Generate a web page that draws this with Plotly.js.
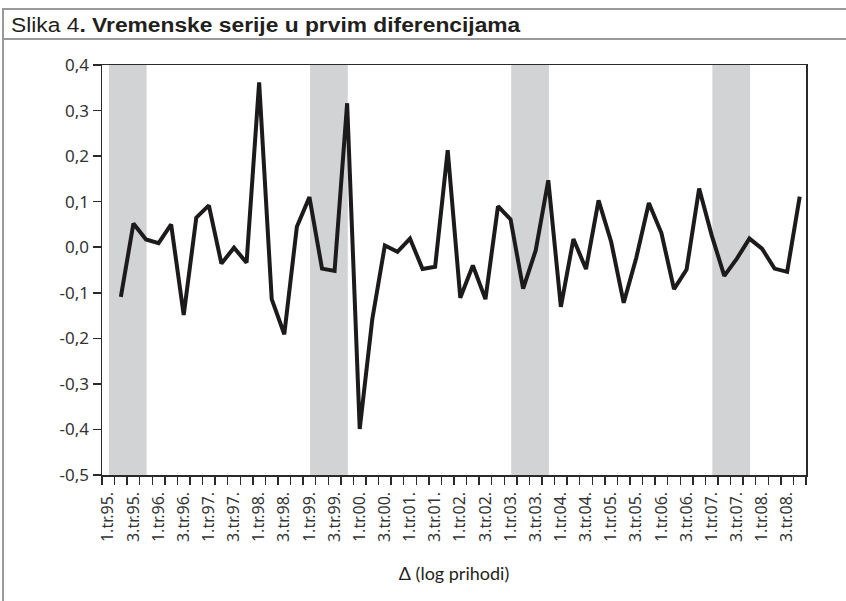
<!DOCTYPE html>
<html>
<head>
<meta charset="utf-8">
<script src="https://cdn.plot.ly/plotly-3.0.1.min.js"></script>
<style>
  html, body { margin: 0; padding: 0; background: #fff; }
  #wrap { position: relative; width: 846px; height: 601px; overflow: hidden; }
  #chart { position: absolute; left: 0; top: 0; width: 846px; height: 601px; }
  .frame { position: absolute; pointer-events: none; }
</style>
</head>
<body>
<div id="wrap">
  <div id="chart"></div>
  <div class="frame" style="left:2px; top:8px; width:844px; height:593px; border-left:2px solid #9a9a9a; border-top:2px solid #9a9a9a;"></div>
  <div class="frame" style="left:2px; top:38px; width:844px; height:0; border-top:2px solid #9a9a9a;"></div>
</div>
<script>
// Quarter labels (categories), 1995 Q1 .. 2008 Q4
const years = ['95','96','97','98','99','00','01','02','03','04','05','06','07','08'];
const quarters = [];
years.forEach(y => { for (let q = 1; q <= 4; q++) quarters.push(q + '.tr.' + y + '.'); });

// First differences of log revenues, starting at 2.tr.95.
const valueStart = '2.tr.95.';
const values = [
  -0.109, 0.052, 0.017, 0.009, 0.050, -0.149, 0.065, 0.092, -0.036, -0.001,
  -0.034, 0.362, -0.114, -0.191, 0.045, 0.110, -0.047, -0.052, 0.316, -0.399,
  -0.158, 0.004, -0.010, 0.019, -0.048, -0.043, 0.213, -0.111, -0.040, -0.114,
  0.090, 0.061, -0.091, -0.007, 0.147, -0.131, 0.018, -0.048, 0.103, 0.012,
  -0.122, -0.023, 0.097, 0.031, -0.092, -0.049, 0.129, 0.026, -0.063, -0.025,
  0.019, -0.003, -0.047, -0.054, 0.111
];

// Shaded periods
const shadeStarts = ['1.tr.95.', '1.tr.99.', '1.tr.03.', '1.tr.07.'];
const shadeEnds   = ['4.tr.95.', '4.tr.99.', '4.tr.03.', '4.tr.07.'];

// Tick labels shown (every second quarter)
const tickLabels = quarters.filter((q, i) => i % 2 === 0);

// Y-axis tick values and labels
const yTickVals = [-0.5, -0.4, -0.3, -0.2, -0.1, 0.0, 0.1, 0.2, 0.3, 0.4];
const yTickText = ['-0,5', '-0,4', '-0,3', '-0,2', '-0,1', '0,0', '0,1', '0,2', '0,3', '0,4'];

const startIdx = quarters.indexOf(valueStart);
const xs = values.map((v, i) => startIdx + i);
const tickPos = tickLabels.map(l => quarters.indexOf(l));

const FONT = '"Noto Sans", "Open Sans", Arial, sans-serif';

const shapes = shadeStarts.map((s, k) => ({
  type: 'rect', xref: 'x', yref: 'paper',
  x0: quarters.indexOf(s) + 0.05, x1: quarters.indexOf(shadeEnds[k]) + 0.05,
  y0: 0, y1: 1,
  fillcolor: '#d1d3d5', line: { width: 0 }, layer: 'below'
}));

const trace = {
  x: xs, y: values, type: 'scatter', mode: 'lines',
  line: { color: '#1c1a1a', width: 4, shape: 'linear' },
  hoverinfo: 'skip'
};

const layout = {
  width: 846, height: 601,
  margin: { l: 102, r: 40, t: 65, b: 126 },
  paper_bgcolor: 'rgba(0,0,0,0)',
  plot_bgcolor: '#ffffff',
  showlegend: false,
  font: { family: FONT, size: 16, color: '#231f20' },
  title: {
    text: 'Slika 4<b>. Vremenske serije u prvim diferencijama</b>',
    font: { family: '"Liberation Sans", Arial, sans-serif', size: 21, color: '#231f20' },
    xref: 'container', yref: 'container',
    x: 11 / 846, xanchor: 'left',
    y: 1 - 25 / 601, yanchor: 'middle'
  },
  xaxis: {
    range: [-0.5, quarters.length - 0.5],
    tickmode: 'array', tickvals: tickPos, ticktext: tickLabels,
    tickangle: -90,
    ticks: 'outside', ticklen: 9, tickcolor: 'rgba(0,0,0,0)',
    minor: { tickmode: 'linear', tick0: -0.5, dtick: 1, ticks: 'outside', ticklen: 8, tickwidth: 1.5, tickcolor: '#2a2a2a', showgrid: false },
    showgrid: false, zeroline: false,
    showline: true, mirror: true, linecolor: '#2a2a2a', linewidth: 1.5,
    tickfont: { family: FONT, size: 16, color: '#333333' },
    title: { text: 'Δ (log prihodi)', standoff: 26, font: { family: 'Lato, "Noto Sans", sans-serif', size: 18, color: '#231f20' } },
    fixedrange: true
  },
  yaxis: {
    range: [-0.5, 0.4],
    tickmode: 'array', tickvals: yTickVals, ticktext: yTickText,
    ticks: 'outside', ticklen: 8, tickwidth: 1.5, tickcolor: '#2a2a2a',
    showgrid: false, zeroline: false,
    showline: true, mirror: true, linecolor: '#2a2a2a', linewidth: 1.5,
    tickfont: { family: FONT, size: 17, color: '#333333' },
    fixedrange: true
  },
  shapes: shapes
};

Plotly.newPlot('chart', [trace], layout, { displayModeBar: false, staticPlot: true }).then(gd => {
  // fit the title to the width it has in the original (x 12 .. 522)
  const t = gd.querySelector('.gtitle');
  if (t) {
    const bb = t.getBBox();
    const target = 510;
    const s = target / bb.width;
    const x0 = bb.x;
    t.setAttribute('transform', `translate(${x0},0) scale(${s},1) translate(${-x0},0)`);
  }
});
</script>
</body>
</html>
